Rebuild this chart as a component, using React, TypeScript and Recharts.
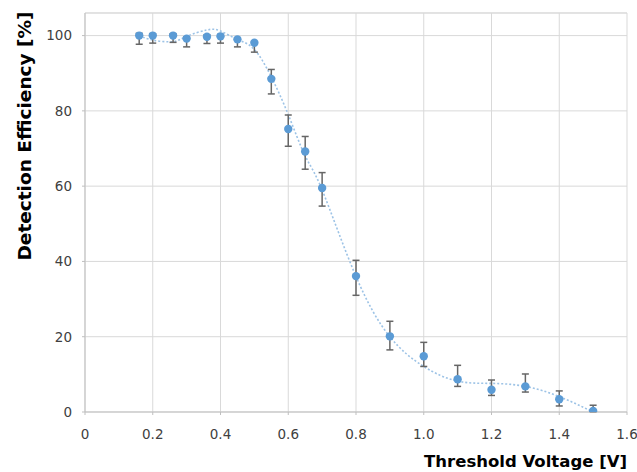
import React from 'react';
import { ComposedChart, Line, Scatter, XAxis, YAxis, CartesianGrid, ErrorBar, ReferenceLine } from 'recharts';

const voltages = [0.16, 0.2, 0.26, 0.3, 0.36, 0.4, 0.45, 0.5, 0.55, 0.6, 0.65, 0.7, 0.8, 0.9, 1.0, 1.1, 1.2, 1.3, 1.4, 1.5];
const efficiency = [100, 100, 100, 99.2, 99.7, 99.8, 99.0, 98.1, 88.5, 75.2, 69.2, 59.5, 36.1, 20.1, 14.8, 8.7, 5.9, 6.8, 3.4, 0.3];
const errLow = [2.3, 2.0, 1.8, 2.2, 1.8, 1.8, 2.0, 2.5, 4.0, 4.6, 4.7, 4.8, 5.1, 3.6, 2.7, 1.9, 1.5, 1.5, 1.8, 0.3];
const errHigh = [0.6, 0.5, 0.5, 0.5, 0.5, 0.5, 0.3, 0.3, 2.5, 3.7, 4.0, 4.1, 4.2, 4.0, 3.7, 3.7, 2.6, 3.3, 2.2, 1.5];
const fitVoltages = [0.16, 0.2, 0.26, 0.3, 0.36, 0.4, 0.45, 0.5, 0.55, 0.6, 0.65, 0.7, 0.8, 0.9, 1.0, 1.1, 1.2, 1.3, 1.4, 1.5];
const fitValues = [100, 98.8, 98.4, 99.8, 101.5, 101.2, 99.0, 96.3, 89.0, 79.0, 68.0, 59.0, 36.0, 20.0, 12.1, 8.2, 7.6, 6.8, 4.1, 0];
const xTicks = [0, 0.2, 0.4, 0.6, 0.8, 1.0, 1.2, 1.4, 1.6];
const yTicks = [0, 20, 40, 60, 80, 100];
const yMax = 106;

const data = voltages.map((v, i) => ({ v, e: efficiency[i], err: [errLow[i], errHigh[i]] }));
const fitData = fitVoltages.map((v, i) => ({ v, f: fitValues[i] }));

const tickStyle = { fontFamily: 'DejaVu Sans', fontSize: 13.5, fill: '#404040' };
const fmtX = (t: number) => (t === 0 ? '0' : t.toFixed(1));

export default function App() {
  return (
    <div style={{ position: 'absolute', left: 0, top: 0, background: '#fff' }}>
      <ComposedChart width={637} height={472} data={data} margin={{ top: 13, right: 10, bottom: 0, left: 0 }}>
        <CartesianGrid stroke="#d9d9d9" strokeWidth={1} />
        <ReferenceLine y={yMax} stroke="#d9d9d9" />
        <XAxis
          type="number"
          dataKey="v"
          domain={[0, 1.6]}
          ticks={xTicks}
          tickFormatter={fmtX}
          tick={tickStyle}
          stroke="#bfbfbf"
          tickSize={3}
          tickMargin={14}
          height={60}
          allowDataOverflow
        />
        <YAxis
          type="number"
          domain={[0, yMax]}
          ticks={yTicks}
          tick={tickStyle}
          stroke="#bfbfbf"
          tickSize={3}
          tickMargin={10}
          width={85}
          allowDataOverflow
        />
        <Line
          data={fitData}
          type="natural"
          dataKey="f"
          stroke="#9dc3e6"
          strokeWidth={1.6}
          strokeDasharray="2 2"
          dot={false}
          activeDot={false}
          isAnimationActive={false}
        />
        <Scatter dataKey="e" fill="#5b9bd5" isAnimationActive={false} shape={(p: any) => <circle cx={p.cx} cy={p.cy} r={4.2} fill="#5b9bd5" />}>
          <ErrorBar dataKey="err" direction="y" stroke="#666666" strokeWidth={1.5} width={3.5} />
        </Scatter>
        <text x={31} y={136} transform="rotate(-90 31 136)" textAnchor="middle" style={{ fontFamily: 'DejaVu Sans', fontWeight: 'bold', fontSize: 18.5, fill: '#000' }}>
          Detection Efficiency [%]
        </text>
        <text x={627} y={467} textAnchor="end" style={{ fontFamily: 'DejaVu Sans', fontWeight: 'bold', fontSize: 16.5, fill: '#000' }}>
          Threshold Voltage [V]
        </text>
      </ComposedChart>
    </div>
  );
}
